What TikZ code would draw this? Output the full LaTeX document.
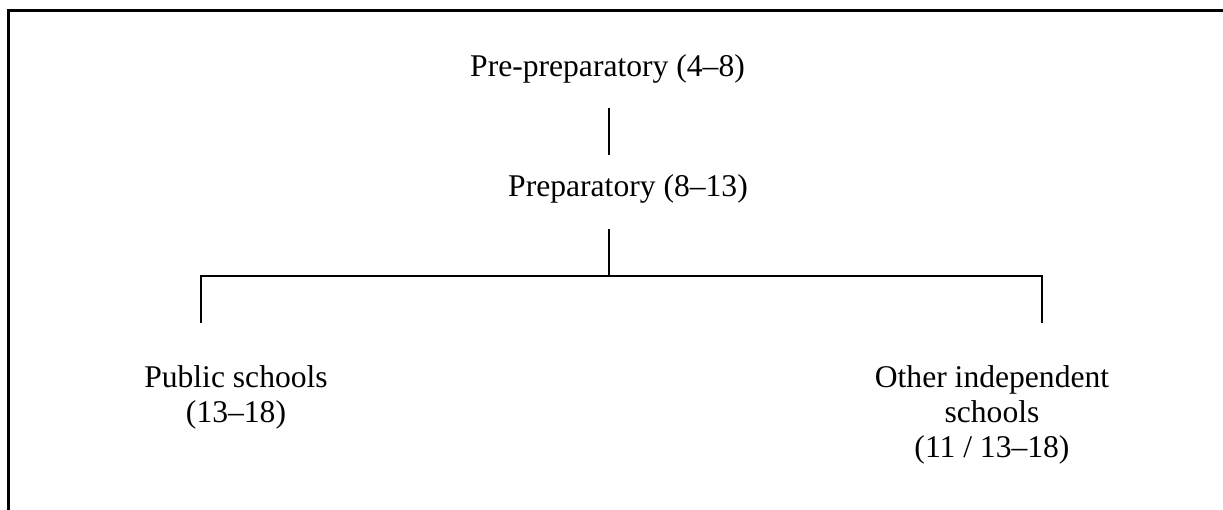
\documentclass[tikz,border=0pt]{standalone}
\usepackage{fontspec}
\setmainfont{Liberation Serif}
\begin{document}
\begin{tikzpicture}[x=1pt,y=-1pt,
  lbl/.style={inner sep=0pt, anchor=base, align=center, font=\fontsize{31.6}{35}\selectfont},
  conn/.style={line width=2pt, black},
  frame/.style={line width=3pt, black}]
\useasboundingbox (0,0) rectangle (1223,510);
\draw[frame] (1223,11) -- (8,11) -- (8,510);
\node[lbl] (pre) at (607.5,77) {Pre-preparatory (4--8)};
\node[lbl] (prep) at (628,197) {Preparatory (8--13)};
\node[lbl] (pub) at (236,422) {Public schools\\(13--18)};
\node[lbl] (oth) at (992,457) {Other independent\\schools\\(11 / 13--18)};
\coordinate (a1) at (609,108);
\coordinate (a2) at (609,155);
\coordinate (b1) at (609,229);
\coordinate (j) at (609,276);
\coordinate (l1) at (201,276);
\coordinate (l2) at (201,323);
\coordinate (r1) at (1042,276);
\coordinate (r2) at (1042,323);
\draw[conn] (a1) -- (a2);
\draw[conn] (b1) -- (j);
\draw[conn] (l2) -- (l1) -- (r1) -- (r2);
\end{tikzpicture}
\end{document}
